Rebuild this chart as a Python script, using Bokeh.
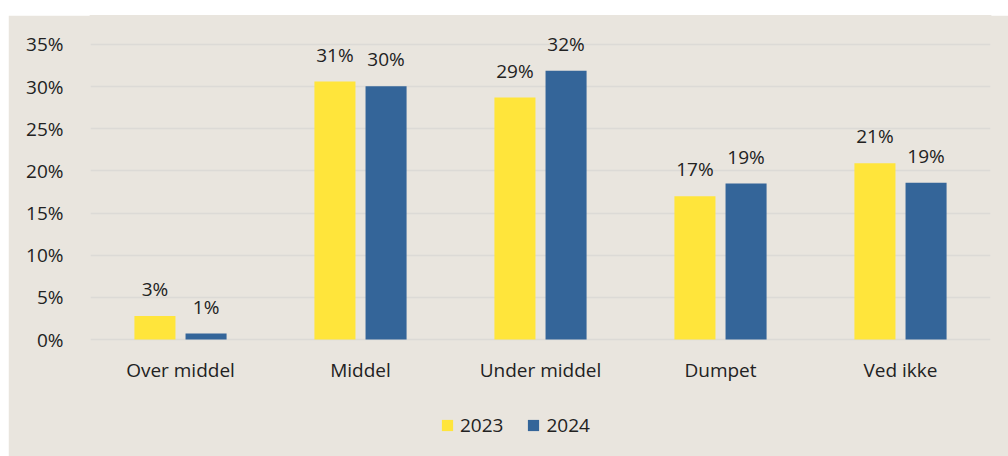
from bokeh.plotting import figure
from bokeh.models import ColumnDataSource, FactorRange, FixedTicker, Legend, LegendItem, Range1d
from bokeh.transform import dodge
from bokeh.core.properties import value
from bokeh.embed import file_html
from bokeh.resources import INLINE

categories = ["Over middel", "Middel", "Under middel", "Dumpet", "Ved ikke"]
v2023 = [2.8, 30.6, 28.7, 17.0, 20.9]
v2024 = [0.7, 30.05, 31.9, 18.5, 18.6]
lab2023 = ["3%", "31%", "29%", "17%", "21%"]
lab2024 = ["1%", "30%", "32%", "19%", "19%"]
yticks = [0, 5, 10, 15, 20, 25, 30, 35]
ytick_labels = ["0%", "5%", "10%", "15%", "20%", "25%", "30%", "35%"]
series = ["2023", "2024"]

FONT = "Open Sans"
FS = "19px"
BG = "#E9E5DE"
YELLOW = "#FFE53B"
BLUE = "#346599"
TXT = "#222222"

src = ColumnDataSource(dict(cat=categories, v23=v2023, v24=v2024, l23=lab2023, l24=lab2024))

p = figure(width=1000, height=441, x_range=FactorRange(*categories, range_padding=0),
           y_range=Range1d(-13.88, 38.44), output_backend="svg", toolbar_location=None,
           min_border_left=82, min_border_right=18, min_border_top=0, min_border_bottom=0)
p.margin = (15, 0, 0, 8)
p.background_fill_color = BG
p.border_fill_color = BG
p.outline_line_color = BG
p.outline_line_width = 2

r1 = p.vbar(x=dodge("cat", -0.142, range=p.x_range), top="v23", width=0.228, source=src,
            fill_color=YELLOW, line_color=None)
r2 = p.vbar(x=dodge("cat", 0.142, range=p.x_range), top="v24", width=0.228, source=src,
            fill_color=BLUE, line_color=None)

for off, col, lab in [(-0.142, "v23", "l23"), (0.142, "v24", "l24")]:
    p.text(x=dodge("cat", off, range=p.x_range), y=col, text=lab, source=src,
           text_align="center", text_baseline="alphabetic", y_offset=-27,
           text_font=value(FONT), text_font_size=FS, text_color=TXT)

p.xgrid.grid_line_color = None
p.ygrid.grid_line_color = "#DCDAD6"
p.ygrid.grid_line_width = 1.5
p.yaxis.ticker = FixedTicker(ticks=yticks)
p.yaxis.major_label_overrides = {t: l for t, l in zip(yticks, ytick_labels)}
p.xaxis.fixed_location = 0

for ax in (p.xaxis, p.yaxis):
    ax.axis_line_color = None
    ax.major_tick_line_color = None
    ax.minor_tick_line_color = None
    ax.major_label_text_font = FONT
    ax.major_label_text_font_size = FS
    ax.major_label_text_color = TXT
p.yaxis.major_label_standoff = 21
p.xaxis.major_label_standoff = 11

legend = Legend(items=[LegendItem(label=series[0], renderers=[r1]),
                       LegendItem(label=series[1], renderers=[r2])],
                orientation="horizontal", location=(350, 18),
                glyph_width=14, glyph_height=14, label_standoff=6, spacing=23,
                padding=0, margin=0, border_line_color=None, background_fill_alpha=0,
                label_text_font=FONT, label_text_font_size=FS, label_text_color=TXT)
p.add_layout(legend, "center")

open("out.html", "w").write(file_html(p, INLINE))
